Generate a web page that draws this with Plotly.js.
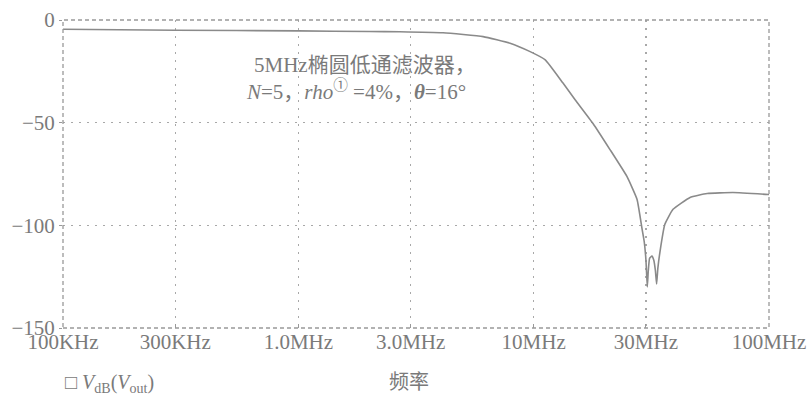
<!DOCTYPE html>
<html>
<head>
<meta charset="utf-8">
<script src="https://cdn.plot.ly/plotly-3.0.1.min.js"></script>
<style>html,body{margin:0;padding:0;background:#fff;}#chart{width:807px;height:396px;}</style>
</head>
<body>
<div id="chart"></div>
<script>
// Frequency (Hz) and magnitude (dB)
const freqHz = [1.0e5, 3.0e5, 1.0e6, 2.0e6, 2.7e6, 4.12e6, 6.1e6, 7.94e6, 9.66e6, 11.2e6, 13.3e6, 15.0e6, 17.9e6, 21.1e6, 24.9e6, 27.5e6, 28.9e6, 29.5e6, 30.0e6, 30.4e6, 30.7e6, 31.1e6, 31.8e6, 32.4e6, 32.9e6, 33.3e6, 33.7e6, 34.4e6, 36.1e6, 39.1e6, 46.2e6, 54.6e6, 70.3e6, 100e6];
const vdb    = [-4.5, -5.0, -5.3, -5.6, -5.7, -6.2, -8.1, -11.3, -15.4, -19.4, -30.6, -38.8, -50.5, -63.1, -76.2, -87.4, -102, -108, -117, -130, -122, -116, -115, -117, -122, -128.6, -121, -113, -99.5, -92.2, -86.4, -84.5, -84.0, -85.0];

const tickVals = [1e5, 3e5, 1e6, 3e6, 1e7, 3e7, 1e8];
const tickText = ['100KHz', '300KHz', '1.0MHz', '3.0MHz', '10MHz', '30MHz', '100MHz'];
const yTickVals = [0, -50, -100, -150];

const titleLine1 = '5MHz椭圆低通滤波器，';
const titleLine2 = '<i>N</i>=5，<i>rho</i><sup>①</sup> =4%，<i><b>θ</b></i>=16°';
const legendText = '□ <i>V</i><sub>dB</sub>(<i>V</i><sub>out</sub>)';
const xTitle = '频率';

const grey = '#7a7a7a';
const serif = '"Liberation Serif", "Noto Sans CJK SC", serif';

const trace = {
  x: freqHz, y: vdb, type: 'scatter', mode: 'lines',
  line: {color: '#8a8a8a', width: 1.6, shape: 'spline', smoothing: 0.4},
  hoverinfo: 'skip', showlegend: false
};

const layout = {
  width: 807, height: 396,
  margin: {l: 63, r: 38, t: 20, b: 68},
  paper_bgcolor: '#fff', plot_bgcolor: '#fff',
  font: {family: serif, color: grey, size: 21},
  xaxis: {
    type: 'log', range: [5, 8],
    tickvals: tickVals, ticktext: tickText,
    showgrid: true, gridcolor: '#a8a8a8', griddash: '2px,6px', gridwidth: 1.2,
    zeroline: false, showline: false,
    ticks: 'inside', ticklen: 4, tickcolor: '#999',
    ticklabelstandoff: -1,
    tickfont: {family: serif, size: 21, color: grey},
    automargin: false
  },
  yaxis: {
    range: [-150, 0], tickvals: yTickVals,
    showgrid: true, gridcolor: '#a8a8a8', griddash: '2px,6px', gridwidth: 1.2,
    zeroline: false, showline: false,
    ticks: 'outside', ticklen: 3, tickcolor: '#999',
    tickfont: {family: serif, size: 21, color: grey},
    automargin: false
  },
  shapes: [{
    type: 'rect', xref: 'paper', yref: 'paper', x0: 0, x1: 1, y0: 0, y1: 1,
    line: {color: '#999', width: 1.3, dash: '4px,3px'}, layer: 'above'
  }],
  annotations: [
    {text: titleLine1, xref: 'paper', yref: 'paper', x: 0.428, y: 0.855, showarrow: false,
     font: {family: serif, size: 21, color: grey}, xanchor: 'center', yanchor: 'middle'},
    {text: titleLine2, xref: 'paper', yref: 'paper', x: 0.415, y: 0.77, showarrow: false,
     font: {family: serif, size: 21, color: grey}, xanchor: 'center', yanchor: 'middle'},
    {text: legendText, xref: 'paper', yref: 'paper', x: 0.0, y: -0.18, showarrow: false,
     font: {family: serif, size: 20, color: grey}, xanchor: 'left', yanchor: 'middle'},
    {text: xTitle, xref: 'paper', yref: 'paper', x: 0.49, y: -0.175, showarrow: false,
     font: {family: serif, size: 20, color: grey}, xanchor: 'center', yanchor: 'middle'}
  ]
};

Plotly.newPlot('chart', [trace], layout, {displayModeBar: false, staticPlot: true});
</script>
</body>
</html>
